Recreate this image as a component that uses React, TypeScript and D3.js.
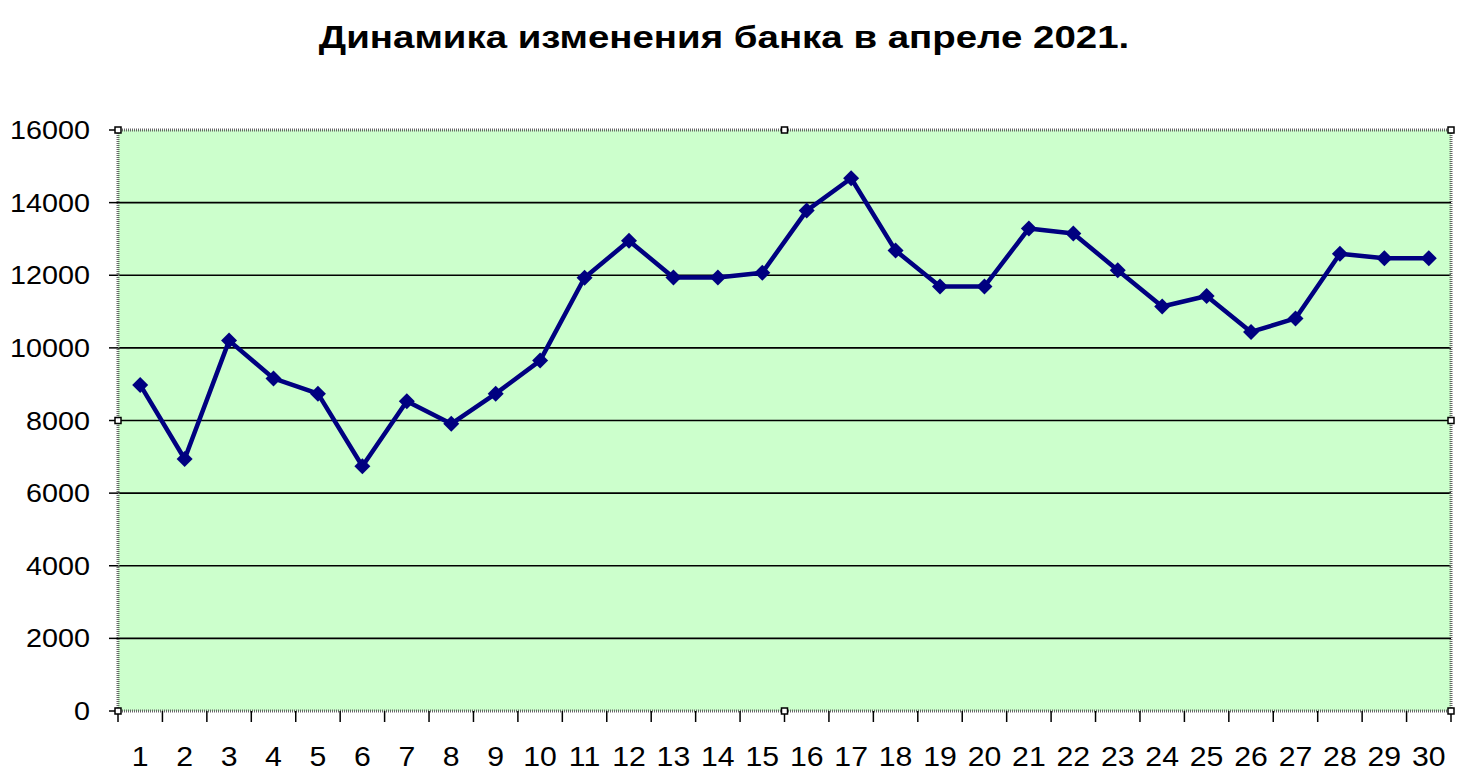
import React from "react";
import * as d3 from "d3";

const days: number[] = Array.from({ length: 30 }, (_, i) => i + 1);
const bank: number[] = [
  8980, 6940, 10200, 9160, 8740, 6740, 8530, 7910, 8740, 9650,
  11930, 12950, 11940, 11940, 12070, 13780, 14670, 12680, 11690, 11690,
  13290, 13150, 12140, 11140, 11430, 10440, 10810, 12590, 12470, 12470,
];
const yTicks: number[] = [0, 2000, 4000, 6000, 8000, 10000, 12000, 14000, 16000];
const title = "Динамика изменения банка в апреле 2021.";

const W = 1460;
const H = 782;
const left = 118;
const right = 1451;
const top = 130;
const bottom = 711;
const FONT = "'Liberation Sans', Arial, sans-serif";

export default function App() {
  const x = d3.scaleBand<number>().domain(days).range([left, right]).padding(0);
  const y = d3.scaleLinear().domain([0, 16000]).range([bottom, top]);
  const line = d3
    .line<number>()
    .x((_, i) => (x(days[i]) as number) + x.bandwidth() / 2)
    .y((d) => y(d));
  const bounds = [...days.map((d) => x(d) as number), right];
  const diamond = (cx: number, cy: number, r: number) =>
    `M${cx},${cy - r}L${cx + r},${cy}L${cx},${cy + r}L${cx - r},${cy}Z`;
  const midX = (left + right) / 2;
  const midY = (top + bottom) / 2;
  const handles = [
    [left, top], [midX, top], [right, top],
    [left, midY], [right, midY],
    [left, bottom], [midX, bottom], [right, bottom],
  ];

  return (
    <svg width={W} height={H} style={{ position: "absolute", left: 0, top: 0, background: "#fff" }}>
      <rect x={0} y={0} width={W} height={H} fill="#fff" />
      <g transform={`translate(724,48) scale(1.24,1)`}>
        <text textAnchor="middle" fontFamily={FONT} fontWeight="bold" fontSize={31} fill="#000">
          {title}
        </text>
      </g>
      <rect x={left} y={top} width={right - left} height={bottom - top} fill="#CCFFCC" />
      {yTicks.filter((t) => t > 0 && t < 16000).map((t) => (
        <line key={"g" + t} x1={left} x2={right} y1={y(t)} y2={y(t)} stroke="#000" strokeWidth={1.6} />
      ))}
      <rect
        x={left}
        y={top}
        width={right - left}
        height={bottom - top}
        fill="none"
        stroke="#666"
        strokeWidth={3}
        strokeDasharray="1,1"
      />
      {yTicks.map((t) => (
        <g key={"y" + t}>
          <line x1={left - 9} x2={left} y1={y(t)} y2={y(t)} stroke="#000" strokeWidth={1.5} />
          <g transform={`translate(90,${y(t) + 9}) scale(1.15,1)`}>
            <text textAnchor="end" fontFamily={FONT} fontSize={25} fill="#000">
              {t}
            </text>
          </g>
        </g>
      ))}
      {bounds.map((b, i) => (
        <line key={"xt" + i} x1={b} x2={b} y1={bottom} y2={bottom + 11} stroke="#000" strokeWidth={1.5} />
      ))}
      {days.map((d) => (
        <g key={"xl" + d} transform={`translate(${(x(d) as number) + x.bandwidth() / 2},766) scale(1.12,1)`}>
          <text textAnchor="middle" fontFamily={FONT} fontSize={27} fill="#000">
            {d}
          </text>
        </g>
      ))}
      {handles.map(([hx, hy], i) => (
        <rect key={"h" + i} x={hx - 3} y={hy - 3} width={6} height={6} fill="#fff" stroke="#000" strokeWidth={1.5} />
      ))}
      <path d={line(bank) || ""} fill="none" stroke="#000080" strokeWidth={4.5} strokeLinejoin="round" />
      {bank.map((v, i) => (
        <path
          key={"m" + i}
          d={diamond((x(days[i]) as number) + x.bandwidth() / 2, y(v), 8)}
          fill="#000080"
        />
      ))}
    </svg>
  );
}
